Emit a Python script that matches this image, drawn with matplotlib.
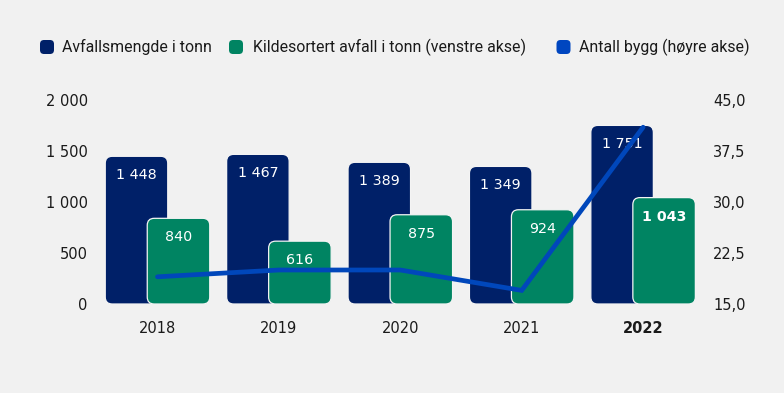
import matplotlib
matplotlib.use("Agg")
import matplotlib.pyplot as plt
from matplotlib.patches import FancyBboxPatch
import numpy as np

years = ["2018", "2019", "2020", "2021", "2022"]
avfall = [1448, 1467, 1389, 1349, 1751]
kildesortert = [840, 616, 875, 924, 1043]
antall_bygg = [19, 20, 20, 17, 41]
left_ticks = [0, 500, 1000, 1500, 2000]
right_ticks = [15.0, 22.5, 30.0, 37.5, 45.0]
legend_labels = ["Avfallsmengde i tonn", "Kildesortert avfall i tonn (venstre akse)", "Antall bygg (høyre akse)"]

NAVY = "#002068"
GREEN = "#008462"
BLUE = "#0047BB"
BG = "#F1F1F1"
TXT = "#1A1A1A"

W, H = 784, 393
fig = plt.figure(figsize=(W / 100, H / 100), dpi=100, facecolor=BG)
ax = fig.add_axes([96.8 / W, (H - 304) / H, 607 / W, 204 / H])
ax.set_facecolor(BG)
ax.set_xlim(-0.5, 4.5)
ax.set_ylim(0, 2000)
ax2 = ax.twinx()
ax2.set_ylim(15, 45)

x = np.arange(len(years))
bw = 0.515
off = 0.173

b1 = ax.bar(x - off, avfall, bw, color=NAVY, zorder=2)
b2 = ax.bar(x + off, kildesortert, bw, color=GREEN, zorder=3)

# convert to rounded bars
px_per_x = ax.transData.transform((1, 0))[0] - ax.transData.transform((0, 0))[0]
px_per_y = ax.transData.transform((0, 1))[1] - ax.transData.transform((0, 0))[1]
r_px = 7
aspect = px_per_x / px_per_y
for bars, col, z in ((b1, NAVY, 2), (b2, GREEN, 3)):
    for rect in bars:
        xx, yy = rect.get_x(), rect.get_y()
        ww, hh = rect.get_width(), rect.get_height()
        p = FancyBboxPatch((xx, yy), ww, hh,
                           boxstyle=f"round,pad=0,rounding_size={r_px / px_per_x}",
                           mutation_aspect=aspect, facecolor=col,
                           edgecolor="#F4F4F4", linewidth=0.9, zorder=z)
        ax.add_patch(p)
        rect.remove()

def fmt(v):
    return f"{v:,}".replace(",", " ")

for i in range(len(years)):
    ax.annotate(fmt(avfall[i]), (x[i] - off, avfall[i]), xytext=(0, -19),
                textcoords="offset pixels", ha="center", va="center",
                color="white", fontsize=10.3, zorder=5)
    ax.annotate(fmt(kildesortert[i]), (x[i] + off, kildesortert[i]), xytext=(0, -19),
                textcoords="offset pixels", ha="center", va="center",
                color="white", fontsize=10.3, zorder=5,
                fontweight="bold" if i == len(years) - 1 else "normal")

ax2.plot(x, antall_bygg, color=BLUE, lw=3.4, solid_capstyle="round",
         solid_joinstyle="miter", zorder=6)
ax2.set_zorder(ax.get_zorder() + 1)
ax2.patch.set_visible(False)

for a in (ax, ax2):
    for s in a.spines.values():
        s.set_visible(False)
    a.tick_params(length=0, colors=TXT, labelsize=10.5)

ax.set_yticks(left_ticks)
ax.set_yticklabels([fmt(v) for v in left_ticks])
ax.tick_params(axis="y", pad=6.5)
ax2.set_yticks(right_ticks)
ax2.set_yticklabels([f"{v:.1f}".replace(".", ",") for v in right_ticks])
ax2.tick_params(axis="y", pad=6.8)
ax.set_xticks(x)
ax.set_xticklabels(years)
ax.tick_params(axis="x", pad=12)
ax.get_xticklabels()[-1].set_fontweight("bold")

# legend
legend_items = [(40, NAVY, 62), (229, GREEN, 253), (556.5, "#0046C0", 579)]
ly = 47
for (mx, col, tx), lab in zip(legend_items, legend_labels):
    fig.patches.append(FancyBboxPatch(((mx) / W, (H - ly - 7) / H), 14 / W, 14 / H,
                                      boxstyle=f"round,pad=0,rounding_size={4 / W}",
                                      mutation_aspect=W / H,
                                      transform=fig.transFigure, facecolor=col,
                                      edgecolor="none", figure=fig))
    fig.text(tx / W, (H - ly) / H, lab, ha="left", va="center", fontsize=11.4,
             color=TXT, fontfamily="Roboto")

fig.savefig("out.png", dpi=100, facecolor=BG)
